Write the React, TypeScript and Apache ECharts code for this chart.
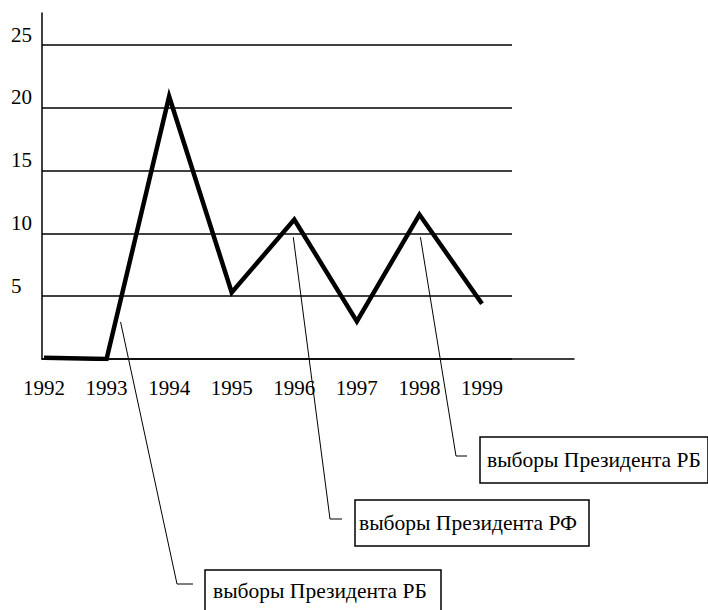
import React, { useEffect, useRef } from "react";
import * as echarts from "echarts";

const years = ["1992", "1993", "1994", "1995", "1996", "1997", "1998", "1999"];
const values = [0.1, 0, 20.9, 5.3, 11.1, 3.0, 11.5, 4.4];
const yTicks = [0, 5, 10, 15, 20, 25];
const notes = ["выборы Президента РБ", "выборы Президента РФ", "выборы Президента РБ"];
const noteYears = [6, 4, 1];
const noteValues = [9.7, 9.7, 2.95];

const FONT = "Times New Roman, Liberation Serif, serif";

export default function App() {
  const ref = useRef<HTMLDivElement>(null);
  useEffect(() => {
    if (!ref.current) return;
    const chart = echarts.init(ref.current, undefined, { renderer: "svg" });
    const option: any = {
      animation: false,
      backgroundColor: "#fff",
      textStyle: { fontFamily: FONT },
      grid: [
        { left: 44, right: 226, top: 45, bottom: 251 },
        { left: 42, right: 196, top: 45, bottom: 251 },
        { left: 42, right: 134, top: 13, bottom: 251 },
      ],
      xAxis: [
        {
          gridIndex: 0,
          type: "category",
          data: years,
          boundaryGap: false,
          axisLine: { show: false },
          axisTick: { show: false },
          axisLabel: { color: "#000", fontFamily: FONT, fontSize: 21, margin: 18 },
        },
        { gridIndex: 1, type: "value", show: false, min: 0, max: 1 },
        {
          gridIndex: 2,
          type: "value",
          min: 0,
          max: 1,
          axisLine: { show: true, lineStyle: { color: "#000", width: 1.5 } },
          axisTick: { show: false },
          axisLabel: { show: false },
          splitLine: { show: false },
        },
      ],
      yAxis: [
        { gridIndex: 0, type: "value", min: 0, max: 25, interval: 5, show: false },
        {
          gridIndex: 1,
          type: "value",
          min: yTicks[0],
          max: yTicks[yTicks.length - 1],
          interval: 5,
          axisLine: { show: false },
          axisTick: { show: false },
          splitLine: { show: true, lineStyle: { color: "#000", width: 1.5 } },
          axisLabel: {
            color: "#000",
            fontFamily: FONT,
            fontSize: 21,
            align: "left",
            verticalAlign: "bottom",
            margin: 31,
            formatter: (v: number) => (v === 0 ? "" : String(v)),
          },
        },
        {
          gridIndex: 2,
          type: "value",
          min: 0,
          max: 1,
          axisLine: { show: true, lineStyle: { color: "#000", width: 1.5 } },
          axisTick: { show: false },
          axisLabel: { show: false },
          splitLine: { show: false },
        },
      ],
      series: [
        {
          type: "line",
          xAxisIndex: 0,
          yAxisIndex: 0,
          data: values,
          showSymbol: false,
          symbol: "none",
          lineStyle: { color: "#000", width: 4.5, join: "miter", cap: "butt" },
          z: 5,
        },
      ],
    };
    chart.setOption(option);

    const boxes = [
      { x: 480, y: 437, w: 228, h: 46, tx: 487, ty: 460, cx: 456, cy: 456, ex: 467 },
      { x: 355, y: 500, w: 234, h: 46, tx: 359, ty: 523, cx: 330, cy: 519, ex: 342 },
      { x: 205, y: 570, w: 236, h: 45, tx: 213, ty: 591, cx: 177, cy: 584, ex: 193 },
    ];
    const offsets = [1, -1, 14];
    const graphics: any[] = [];
    boxes.forEach((b, i) => {
      const p = chart.convertToPixel({ xAxisIndex: 0, yAxisIndex: 0 }, [noteYears[i], noteValues[i]]) as number[];
      const sx = p[0] + offsets[i];
      const sy = p[1];
      graphics.push({
        type: "polyline",
        shape: { points: [[sx, sy], [b.cx, b.cy], [b.ex, b.cy]] },
        style: { stroke: "#000", lineWidth: 1, fill: null },
        z: 10,
      });
      graphics.push({
        type: "rect",
        shape: { x: b.x, y: b.y, width: b.w, height: b.h },
        style: { stroke: "#000", lineWidth: 1.5, fill: "#fff" },
        z: 10,
      });
      graphics.push({
        type: "text",
        x: b.tx,
        y: b.ty,
        style: {
          text: notes[i],
          fill: "#000",
          fontSize: 21.5,
          fontFamily: FONT,
          align: "left",
          verticalAlign: "middle",
        },
        z: 11,
      });
    });
    chart.setOption({ graphic: graphics });
    return () => chart.dispose();
  }, []);
  return <div ref={ref} style={{ width: 708, height: 610, position: "absolute", left: 0, top: 0 }} />;
}
